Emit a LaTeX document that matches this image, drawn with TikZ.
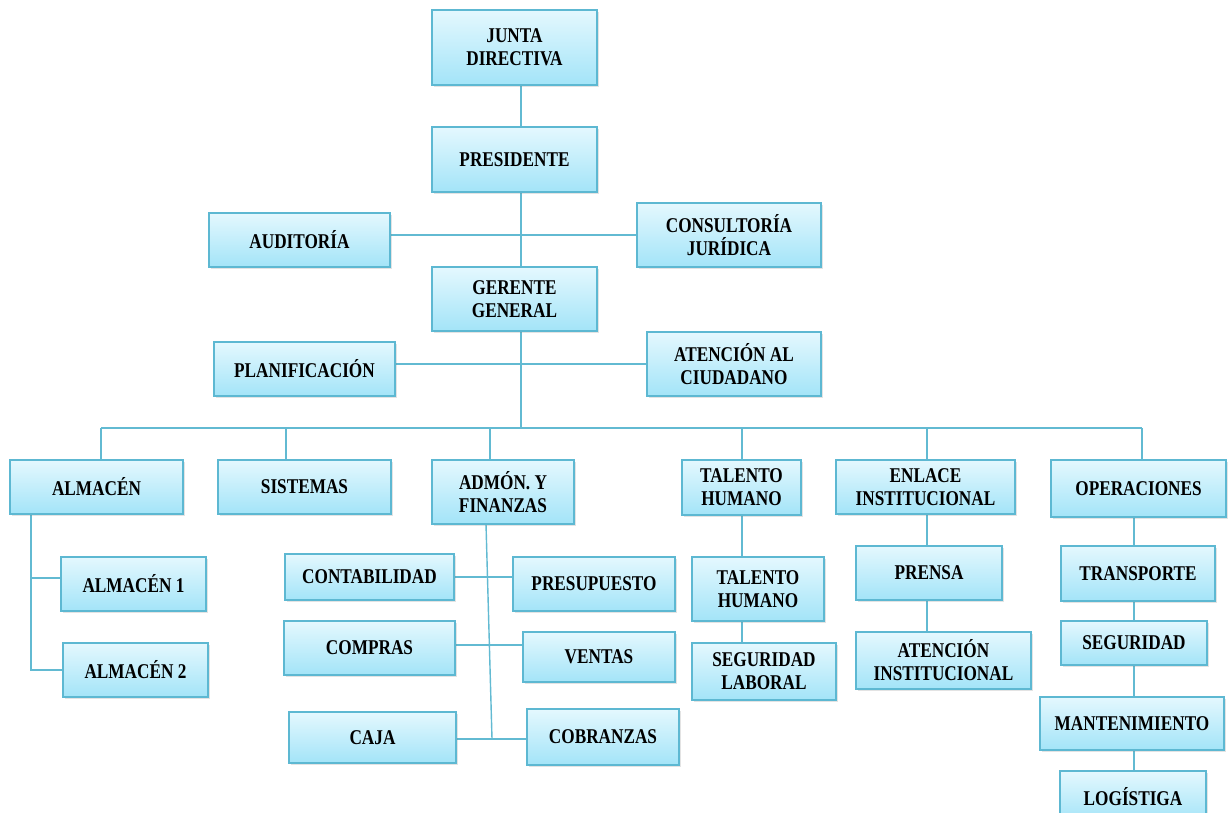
\documentclass[tikz,border=0pt]{standalone}
\usepackage{fontspec}
\newfontfamily\boxfont{Liberation Serif}[FakeStretch=0.82]
\usetikzlibrary{shadows,backgrounds}
\definecolor{boxtop}{HTML}{E4F8FE}
\definecolor{boxbot}{HTML}{A3E4F8}
\definecolor{boxedge}{HTML}{5DB8D2}
\definecolor{linkcol}{HTML}{62BAD2}
\tikzset{
  unit/.style={rectangle, draw=boxedge, line width=1.3pt,
    top color=boxtop, bottom color=boxbot, inner sep=0pt,
    align=center, text=black,
    font=\boxfont\bfseries\fontsize{21}{23}\selectfont,
    drop shadow={opacity=0.22, shadow xshift=1.5pt, shadow yshift=-1.5pt}},
  link/.style={draw=linkcol, line width=1.4pt}
}
% unit box: centre, width, height
\newcommand\unitbox[6]{\node[unit, minimum width=#4pt, minimum height=#5pt] (#1) at (#2,#3) {#6};}
\begin{document}
\begin{tikzpicture}[x=1pt,y=-1pt]
\clip (0,0) rectangle (1228,812);

% top of the hierarchy
\unitbox{junta}{514.5}{47.5}{165}{75}{JUNTA\\DIRECTIVA}
\unitbox{pres}{514.5}{159.5}{165}{65}{PRESIDENTE}
\unitbox{audit}{299.5}{240}{181}{54}{AUDITORÍA}
\unitbox{consult}{729}{235}{184}{64}{CONSULTORÍA\\JURÍDICA}
\unitbox{gerente}{514.5}{299}{165}{64}{GERENTE\\GENERAL}
\unitbox{planif}{304.5}{369}{181}{54}{PLANIFICACIÓN}
\unitbox{atenc}{734}{364}{174}{64}{ATENCIÓN AL\\CIUDADANO}

% departments
\unitbox{almacen}{96.5}{487}{173}{54}{ALMACÉN}
\unitbox{sistemas}{304.5}{487}{173}{54}{SISTEMAS}
\unitbox{admon}{503}{492}{142}{64}{ADMÓN. Y\\FINANZAS}
\unitbox{talento}{741.5}{487.5}{119}{55}{TALENTO\\HUMANO}
\unitbox{enlace}{925.5}{487}{179}{54}{ENLACE\\INSTITUCIONAL}
\unitbox{operac}{1138.5}{488.5}{175}{57}{OPERACIONES}

% sub-units
\unitbox{alm1}{133.5}{584}{145}{54}{ALMACÉN 1}
\unitbox{alm2}{135.5}{670}{145}{54}{ALMACÉN 2}
\unitbox{contab}{369.5}{577}{169}{46}{CONTABILIDAD}
\unitbox{presup}{594}{584}{162}{54}{PRESUPUESTO}
\unitbox{compras}{369.5}{648}{171}{54}{COMPRAS}
\unitbox{ventas}{599}{657}{152}{50}{VENTAS}
\unitbox{caja}{372.5}{737.5}{167}{51}{CAJA}
\unitbox{cobranzas}{603}{737}{152}{56}{COBRANZAS}
\unitbox{talento2}{758}{589}{132}{64}{TALENTO\\HUMANO}
\unitbox{seglab}{764}{671.5}{144}{57}{SEGURIDAD\\LABORAL}
\unitbox{prensa}{929}{573}{146}{54}{PRENSA}
\unitbox{atinst}{943.5}{660.5}{175}{57}{ATENCIÓN\\INSTITUCIONAL}
\unitbox{transp}{1138}{573.5}{154}{55}{TRANSPORTE}
\unitbox{segur}{1134}{643}{146}{44}{SEGURIDAD}
\unitbox{mant}{1132}{723.5}{184}{53}{MANTENIMIENTO}
\unitbox{logis}{1133}{796.5}{146}{51}{LOGÍSTIGA}

% reference points for the connectors
\coordinate (trunk) at (521,428);
\coordinate (d1) at (101,428);
\coordinate (d2) at (286,428);
\coordinate (d3) at (490,428);
\coordinate (d4) at (742,428);
\coordinate (d5) at (927,428);
\coordinate (d6) at (1142,428);
\coordinate (ab1) at (31,578);
\coordinate (ab2) at (31,670);
\coordinate (fin0) at (486,524);
\coordinate (fin1) at (492,739);
\coordinate (opx) at (1134,0);

\begin{scope}[on background layer]
  \fill[white] (0,0) rectangle (1228,812);
  % main line of command
  \path[link] (junta.south -| trunk) -- (pres.north -| trunk);
  \path[link] (pres.south -| trunk) -- (gerente.north -| trunk);
  \path[link] (gerente.south -| trunk) -- (trunk);
  \path[link] (audit.east |- consult.west) -- (consult.west);
  \path[link] (planif.east |- atenc.west) -- (atenc.west);
  % department bus
  \path[link] (d1) -- (d6);
  \foreach \d/\n in {d1/almacen,d2/sistemas,d3/admon,d4/talento,d5/enlace,d6/operac}
    \path[link] (\d) -- (\n.north -| \d);
  % almacén branch
  \path[link] (almacen.south -| ab1) -- (ab2) -- (alm2.west |- ab2);
  \path[link] (ab1) -- (alm1.west |- ab1);
  % finanzas branch
  \path[link] (fin0) -- (fin1);
  \path[link] (contab.east) -- (presup.west |- contab.east);
  \path[link] (compras.east |- 0,645) -- (ventas.west |- 0,645);
  \path[link] (caja.east |- fin1) -- (cobranzas.west |- fin1);
  % talento humano branch
  \path[link] (talento.south -| d4) -- (talento2.north -| d4);
  \path[link] (talento2.south -| d4) -- (seglab.north -| d4);
  % enlace branch
  \path[link] (enlace.south -| d5) -- (prensa.north -| d5);
  \path[link] (prensa.south -| d5) -- (atinst.north -| d5);
  % operaciones branch
  \path[link] (operac.south -| opx) -- (transp.north -| opx);
  \path[link] (transp.south -| opx) -- (segur.north -| opx);
  \path[link] (segur.south -| opx) -- (mant.north -| opx);
  \path[link] (mant.south -| opx) -- (logis.north -| opx);
\end{scope}
\end{tikzpicture}
\end{document}
